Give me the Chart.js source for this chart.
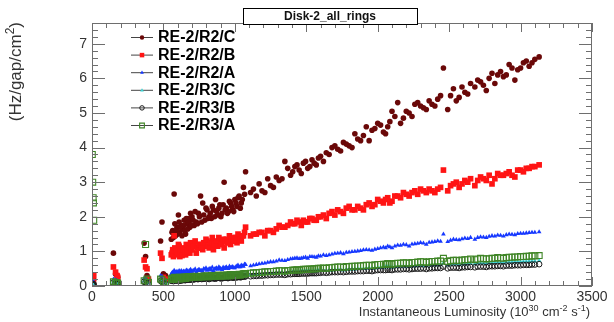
<!DOCTYPE html>
<html>
<head>
<meta charset="utf-8">
<script src="https://cdn.jsdelivr.net/npm/chart.js@4.4.1/dist/chart.umd.min.js"></script>
<style>
  body { margin: 0; background: #fff; }
  #wrap { width: 614px; height: 322px; }
</style>
</head>
<body>
<div id="wrap"><canvas id="rateChart" width="614" height="322"></canvas></div>
<script>
// Luminosidade instantanea (10^30 cm-2 s-1), mesma para todos os aneis
const lumi = [2, 5, 8, 10, 12, 150, 165, 175, 180, 365, 375, 385, 395, 480, 490, 500, 515,
  555, 565, 575, 585, 595, 605, 615, 625, 635, 645, 655, 665, 675, 685,
  700, 715, 730, 745, 760, 775, 790, 805, 820, 835, 850, 865, 880, 895, 910, 925, 940, 955, 970, 985,
  1000, 1015, 1030, 1045, 1060, 1075,
  1110, 1150, 1190, 1230, 1270, 1310, 1350, 1390, 1420, 1450, 1480, 1510, 1540, 1570, 1600,
  1640, 1680, 1720, 1760, 1800, 1840, 1880, 1920, 1960, 2000,
  2040, 2070, 2100, 2140, 2180, 2220, 2260, 2300, 2340, 2380,
  2420, 2460, 2490, 2530, 2570, 2610, 2650, 2680, 2720, 2760,
  2800, 2840, 2880, 2920, 2960, 3000, 3040, 3080, 3130,
  560, 570, 580, 590, 600, 610, 620, 630, 640, 650, 660, 670, 680, 690, 695,
  708, 722, 738, 752, 768, 782, 798, 812, 828, 842, 858, 872, 888, 902, 918,
  932, 948, 962, 978, 992, 1008, 1022, 1038, 1052, 1068,
  1130, 1170, 1210, 1250, 1290, 1330, 1370, 1405, 1435, 1465,
  1495, 1525, 1555, 1585, 1620, 1660, 1700, 1740, 1780, 1820,
  1860, 1900, 1940, 1980, 2020, 2055, 2085, 2120, 2160, 2200,
  2240, 2280, 2320, 2360, 2400, 2440, 2510, 2550, 2590, 2630,
  2700, 2740, 2780, 2820, 2860, 2900, 2940, 2980, 3020, 3060, 3100];

// Taxa (Hz/gap/cm2) por anel
const rateR2C = [0.15, 0.22, 0.1, 0.05, 0.18, 0.95, 0.35, 0.3, 0.25, 1.24, 0.85, 0.3, 0.2, 1.3, 1.85, 0.35, 0.3,
  1.35, 1.6, 2.66, 1.45, 1.7, 2.05, 1.55, 1.75, 1.65, 1.9, 1.5, 1.8, 1.95, 1.7,
  2.0, 1.75, 1.85, 2.1, 2.6, 2.4, 1.9, 2.2, 2.0, 1.95, 2.2, 2.5, 2.05, 2.35, 2.1, 3.0, 2.25, 2.15, 2.4, 2.2,
  2.5, 2.3, 2.6, 2.4, 2.85, 3.3,
  2.7, 2.6, 2.75, 3.1, 2.85, 3.05, 3.6, 3.2, 3.45, 3.35, 3.55, 3.4, 3.65, 3.5, 3.75,
  3.85, 4.0, 3.95, 4.15, 4.05, 4.4, 4.2, 4.6, 4.5, 4.7,
  4.45, 4.6, 5.05, 5.3, 4.85, 5.0, 5.25, 5.2, 5.1, 5.25,
  5.4, 6.3, 5.1, 5.7, 5.45, 5.6, 5.85, 5.75, 5.9, 5.65,
  6.15, 6.1, 6.05, 6.4, 5.95, 6.3, 6.5, 6.45, 6.62,
  1.55, 1.4, 1.8, 1.6, 1.5, 1.85, 1.7, 1.45, 1.75, 1.6, 1.95, 1.65, 1.85, 2.1, 1.75,
  1.9, 2.15, 1.8, 2.0, 1.85, 2.05, 2.25, 1.95, 2.1, 2.3, 2.0, 2.15, 2.25, 2.0, 2.35,
  2.2, 2.1, 2.45, 2.3, 2.15, 2.4, 2.55, 2.25, 2.5, 2.65,
  2.8, 2.95, 2.7, 2.9, 3.15, 3.1, 3.4, 3.3, 3.5, 3.25,
  3.6, 3.45, 3.55, 3.7, 3.6, 3.8, 4.05, 3.9, 4.1, 4.0,
  4.25, 4.35, 4.2, 4.55, 4.65, 4.4, 4.75, 4.9, 4.7, 5.05,
  4.9, 5.3, 5.15, 5.35, 5.2, 5.5, 5.5, 5.35, 5.75, 5.55,
  5.95, 5.8, 6.0, 5.85, 6.2, 6.1, 6.3, 6.25, 6.45, 6.35, 6.55];
const rateR2B = [0.2, 0.28, 0.12, 0.08, 0.3, 0.55, 0.4, 0.3, 0.25, 0.75, 0.55, 0.5, 0.2, 0.95, 0.8, 0.25, 0.2,
  0.9, 1.05, 1.45, 0.95, 1.0, 1.2, 0.85, 1.05, 0.95, 1.1, 0.9, 1.0, 1.15, 0.95,
  1.05, 1.25, 0.95, 1.1, 1.2, 1.05, 1.15, 1.3, 1.1, 1.2, 1.05, 1.25, 1.15, 1.3, 1.2, 1.1, 1.35, 1.25, 1.2, 1.3,
  1.4, 1.25, 1.35, 1.3, 1.45, 1.7,
  1.45, 1.5, 1.55, 1.6, 1.55, 1.75, 1.7, 1.85, 1.8, 1.85, 1.9, 1.85, 1.95, 1.9, 2.0,
  1.95, 2.15, 2.2, 2.1, 2.3, 2.2, 2.25, 2.35, 2.3, 2.5,
  2.4, 2.55, 2.45, 2.6, 2.7, 2.6, 2.75, 2.8, 2.7, 2.75,
  2.8, 3.35, 2.75, 2.95, 2.85, 3.05, 3.1, 2.9, 3.15, 3.05,
  2.95, 3.25, 3.2, 3.3, 3.15, 3.35, 3.4, 3.45, 3.5,
  0.95, 0.85, 1.1, 1.0, 0.9, 1.15, 1.0, 0.88, 1.05, 0.95, 1.2, 1.0, 1.1, 1.25, 1.05,
  1.15, 1.3, 1.1, 1.2, 1.1, 1.25, 1.35, 1.15, 1.25, 1.4, 1.2, 1.3, 1.4, 1.2, 1.35,
  1.3, 1.25, 1.45, 1.35, 1.3, 1.4, 1.5, 1.35, 1.45, 1.55,
  1.5, 1.55, 1.45, 1.6, 1.65, 1.7, 1.75, 1.8, 1.9, 1.75,
  1.85, 1.95, 1.9, 2.0, 2.05, 2.1, 2.05, 2.15, 2.25, 2.2,
  2.3, 2.2, 2.4, 2.35, 2.45, 2.5, 2.4, 2.6, 2.55, 2.65,
  2.7, 2.65, 2.75, 2.8, 2.7, 2.85, 2.9, 3.0, 2.95, 3.0,
  3.05, 3.1, 3.2, 3.1, 3.2, 3.25, 3.2, 3.35, 3.3, 3.4, 3.45];
const rateR2A = [0.1, 0.15, 0.08, 0.05, 0.12, 0.2, 0.18, 0.15, 0.12, 0.22, 0.2, 0.15, 0.12, 0.3, 0.28, 0.15, 0.12,
  0.35, 0.4, 0.45, 0.38, 0.42, 0.4, 0.36, 0.44, 0.4, 0.42, 0.38, 0.45, 0.4, 0.43,
  0.42, 0.45, 0.4, 0.47, 0.44, 0.42, 0.48, 0.45, 0.5, 0.46, 0.44, 0.5, 0.48, 0.52, 0.47, 0.5, 0.55, 0.5, 0.53, 0.56,
  0.52, 0.58, 0.55, 0.6, 0.57, 0.62,
  0.58, 0.62, 0.65, 0.68, 0.7, 0.75, 0.73, 0.78, 0.8, 0.79, 0.82, 0.8, 0.85, 0.83, 0.86,
  0.88, 0.92, 0.95, 0.93, 0.98, 1.0, 1.02, 1.05, 1.03, 1.08,
  1.12, 1.15, 1.1, 1.18, 1.2, 1.15, 1.22, 1.25, 1.2, 1.27,
  1.3, 1.5, 1.28, 1.35, 1.33, 1.38, 1.4, 1.35, 1.42, 1.4,
  1.45, 1.47, 1.44, 1.5, 1.48, 1.52, 1.53, 1.55, 1.56,
  0.38, 0.33, 0.42, 0.4, 0.36, 0.44, 0.4, 0.37, 0.43, 0.39, 0.46, 0.41, 0.44, 0.48, 0.42,
  0.45, 0.49, 0.44, 0.47, 0.45, 0.5, 0.52, 0.47, 0.5, 0.54, 0.49, 0.52, 0.55, 0.5, 0.54,
  0.53, 0.51, 0.57, 0.54, 0.52, 0.56, 0.6, 0.55, 0.58, 0.63,
  0.6, 0.64, 0.66, 0.7, 0.72, 0.74, 0.76, 0.79, 0.81, 0.8,
  0.83, 0.85, 0.84, 0.87, 0.9, 0.9, 0.94, 0.96, 0.97, 0.99,
  1.01, 1.04, 1.04, 1.06, 1.1, 1.1, 1.13, 1.15, 1.17, 1.19,
  1.21, 1.23, 1.24, 1.26, 1.28, 1.29, 1.32, 1.34, 1.36, 1.37,
  1.4, 1.41, 1.43, 1.44, 1.46, 1.48, 1.49, 1.51, 1.52, 1.54, 1.55];
const rateR3C = [0.05, 0.08, 0.04, 0.03, 0.06, 0.12, 0.1, 0.08, 0.07, 0.15, 0.12, 0.1, 0.08, 0.18, 0.15, 0.1, 0.08,
  0.18, 0.2, 0.22, 0.19, 0.21, 0.2, 0.18, 0.22, 0.21, 0.23, 0.2, 0.22, 0.24, 0.21,
  0.23, 0.22, 0.24, 0.23, 0.25, 0.24, 0.26, 0.25, 0.24, 0.27, 0.26, 0.25, 0.28, 0.27, 0.26, 0.28, 0.29, 0.27, 0.3, 0.28,
  0.3, 0.29, 0.31, 0.3, 0.32, 0.33,
  0.33, 0.34, 0.35, 0.36, 0.37, 0.38, 0.37, 0.39, 0.4, 0.4, 0.41, 0.42, 0.42, 0.43, 0.44,
  0.44, 0.46, 0.47, 0.46, 0.48, 0.49, 0.5, 0.51, 0.5, 0.53,
  0.54, 0.55, 0.54, 0.56, 0.57, 0.56, 0.58, 0.59, 0.58, 0.6,
  0.61, 0.66, 0.6, 0.63, 0.62, 0.64, 0.65, 0.64, 0.66, 0.65,
  0.67, 0.68, 0.67, 0.69, 0.7, 0.7, 0.71, 0.72, 0.73,
  0.19, 0.17, 0.21, 0.2, 0.18, 0.22, 0.2, 0.19, 0.21, 0.2, 0.23, 0.21, 0.22, 0.24, 0.22,
  0.23, 0.25, 0.23, 0.24, 0.23, 0.25, 0.26, 0.24, 0.25, 0.27, 0.25, 0.26, 0.27, 0.25, 0.28,
  0.27, 0.26, 0.29, 0.28, 0.27, 0.29, 0.3, 0.28, 0.3, 0.31,
  0.34, 0.35, 0.36, 0.37, 0.38, 0.39, 0.39, 0.4, 0.41, 0.42,
  0.42, 0.43, 0.43, 0.44, 0.45, 0.46, 0.47, 0.47, 0.48, 0.49,
  0.5, 0.5, 0.52, 0.52, 0.54, 0.55, 0.55, 0.56, 0.57, 0.57,
  0.58, 0.59, 0.59, 0.6, 0.61, 0.61, 0.62, 0.63, 0.63, 0.64,
  0.66, 0.66, 0.67, 0.68, 0.68, 0.69, 0.7, 0.7, 0.71, 0.72, 0.72];
const rateR3B = [0.04, 0.06, 0.03, 0.02, 0.05, 0.1, 0.08, 0.07, 0.06, 0.12, 0.1, 0.08, 0.06, 0.15, 0.12, 0.08, 0.06,
  0.15, 0.17, 0.18, 0.16, 0.18, 0.17, 0.15, 0.19, 0.18, 0.19, 0.17, 0.19, 0.2, 0.18,
  0.2, 0.19, 0.21, 0.2, 0.22, 0.21, 0.22, 0.21, 0.2, 0.23, 0.22, 0.21, 0.24, 0.23, 0.22, 0.24, 0.25, 0.23, 0.26, 0.24,
  0.26, 0.25, 0.27, 0.26, 0.28, 0.28,
  0.28, 0.29, 0.3, 0.31, 0.32, 0.33, 0.32, 0.34, 0.35, 0.35, 0.36, 0.36, 0.37, 0.37, 0.38,
  0.38, 0.4, 0.4, 0.4, 0.42, 0.42, 0.43, 0.44, 0.43, 0.46,
  0.46, 0.47, 0.46, 0.48, 0.49, 0.48, 0.5, 0.5, 0.49, 0.51,
  0.52, 0.56, 0.51, 0.53, 0.52, 0.54, 0.55, 0.54, 0.56, 0.55,
  0.57, 0.58, 0.57, 0.59, 0.6, 0.6, 0.61, 0.62, 0.63,
  0.16, 0.14, 0.17, 0.17, 0.15, 0.18, 0.17, 0.16, 0.18, 0.17, 0.19, 0.18, 0.19, 0.2, 0.19,
  0.19, 0.21, 0.2, 0.21, 0.2, 0.21, 0.22, 0.21, 0.22, 0.23, 0.22, 0.23, 0.24, 0.22, 0.24,
  0.24, 0.23, 0.25, 0.25, 0.24, 0.25, 0.26, 0.25, 0.27, 0.27,
  0.29, 0.3, 0.31, 0.32, 0.33, 0.33, 0.34, 0.35, 0.35, 0.36,
  0.36, 0.37, 0.37, 0.38, 0.39, 0.39, 0.4, 0.41, 0.41, 0.42,
  0.43, 0.43, 0.44, 0.45, 0.46, 0.46, 0.47, 0.48, 0.48, 0.49,
  0.49, 0.5, 0.51, 0.51, 0.52, 0.52, 0.53, 0.53, 0.54, 0.55,
  0.56, 0.56, 0.57, 0.57, 0.58, 0.59, 0.59, 0.6, 0.61, 0.61, 0.62];
const rateR3A = [3.8, 3.0, 2.55, 2.4, 1.9, 0.12, 0.1, 0.09, 0.08, 0.15, 1.2, 0.2, 0.1, 0.2, 0.18, 0.12, 0.1,
  0.2, 0.22, 0.25, 0.21, 0.24, 0.23, 0.2, 0.25, 0.23, 0.26, 0.22, 0.25, 0.27, 0.24,
  0.26, 0.25, 0.27, 0.26, 0.28, 0.27, 0.29, 0.28, 0.27, 0.3, 0.29, 0.28, 0.31, 0.3, 0.29, 0.31, 0.32, 0.3, 0.33, 0.31,
  0.33, 0.32, 0.34, 0.33, 0.35, 0.36,
  0.37, 0.38, 0.4, 0.41, 0.42, 0.44, 0.43, 0.45, 0.46, 0.46, 0.48, 0.48, 0.49, 0.5, 0.51,
  0.51, 0.53, 0.55, 0.54, 0.56, 0.57, 0.58, 0.6, 0.59, 0.62,
  0.63, 0.65, 0.63, 0.66, 0.67, 0.66, 0.68, 0.7, 0.68, 0.71,
  0.72, 0.8, 0.71, 0.74, 0.73, 0.76, 0.78, 0.76, 0.8, 0.78,
  0.8, 0.82, 0.8, 0.83, 0.84, 0.85, 0.86, 0.87, 0.88,
  0.21, 0.19, 0.24, 0.22, 0.2, 0.25, 0.23, 0.21, 0.24, 0.22, 0.26, 0.24, 0.25, 0.27, 0.25,
  0.26, 0.28, 0.26, 0.27, 0.26, 0.28, 0.29, 0.27, 0.28, 0.3, 0.28, 0.29, 0.31, 0.28, 0.31,
  0.3, 0.29, 0.32, 0.31, 0.3, 0.32, 0.33, 0.31, 0.34, 0.35,
  0.38, 0.39, 0.41, 0.42, 0.43, 0.44, 0.45, 0.46, 0.47, 0.47,
  0.48, 0.49, 0.5, 0.51, 0.52, 0.53, 0.54, 0.55, 0.56, 0.57,
  0.58, 0.59, 0.6, 0.61, 0.62, 0.63, 0.64, 0.65, 0.66, 0.67,
  0.68, 0.69, 0.7, 0.7, 0.71, 0.72, 0.73, 0.74, 0.75, 0.76,
  0.78, 0.79, 0.79, 0.8, 0.81, 0.82, 0.83, 0.84, 0.85, 0.86, 0.87];

const seriesNames = ['RE-2/R2/C', 'RE-2/R2/B', 'RE-2/R2/A', 'RE-2/R3/C', 'RE-2/R3/B', 'RE-2/R3/A'];
const seriesRates = [rateR2C, rateR2B, rateR2A, rateR3C, rateR3B, rateR3A];
const xTicks = [0, 500, 1000, 1500, 2000, 2500, 3000, 3500];
const yTicks = [0, 1, 2, 3, 4, 5, 6, 7];

// estilo de cada anel (marcador estilo ROOT)
const styles = [
  { pointStyle: 'circle', radius: 2.8, fill: '#6a0808', stroke: '#6a0808', bw: 0 },
  { pointStyle: 'rect', radius: 4, fill: '#ff1414', stroke: '#ff1414', bw: 0 },
  { pointStyle: 'triangle', radius: 2.7, fill: '#1638ff', stroke: '#1638ff', bw: 0 },
  { pointStyle: 'triangle', radius: 2.7, fill: '#3cd2d2', stroke: '#3cd2d2', bw: 0 },
  { pointStyle: 'circle', radius: 2.8, fill: 'rgba(0,0,0,0)', stroke: '#1a1a1a', bw: 1 },
  { pointStyle: 'rect', radius: 4.2, fill: 'rgba(0,0,0,0)', stroke: '#3f8526', bw: 1.1 }
];

const datasets = seriesNames.map(function (name, i) {
  const st = styles[i];
  return {
    label: name,
    data: lumi.map(function (x, k) { return { x: x, y: seriesRates[i][k] }; }),
    pointStyle: st.pointStyle,
    pointRadius: st.radius,
    pointHoverRadius: st.radius,
    pointBackgroundColor: st.fill,
    pointBorderColor: st.stroke,
    pointBorderWidth: st.bw,
    showLine: false,
    order: seriesNames.length - i
  };
});

const FONT = '"Liberation Sans", Arial, sans-serif';

function drawPieces(ctx, pieces, x, y, align) {
  let total = 0;
  pieces.forEach(function (p) { ctx.font = p.font; total += ctx.measureText(p.t).width; });
  let cx = align === 'right' ? x - total : x;
  ctx.textAlign = 'left';
  pieces.forEach(function (p) {
    ctx.font = p.font;
    ctx.fillText(p.t, cx, y - (p.rise || 0));
    cx += ctx.measureText(p.t).width;
  });
}

// moldura, ticks internos, titulo, legenda e titulos dos eixos (estilo ROOT)
const rootStyle = {
  id: 'rootStyle',
  afterDraw(chart) {
    const ctx = chart.ctx;
    const a = chart.chartArea;
    const xs = chart.scales.x, ys = chart.scales.y;
    ctx.save();
    ctx.strokeStyle = '#6e6e6e';
    ctx.lineWidth = 1;
    ctx.strokeRect(a.left + 0.5, a.top + 0.5, a.right - a.left - 1, a.bottom - a.top - 1);
    ctx.beginPath();
    for (let v = 0; v <= 3500; v += 100) {
      const px = Math.round(xs.getPixelForValue(v)) + 0.5;
      const len = v % 500 === 0 ? 9 : 5;
      ctx.moveTo(px, a.bottom); ctx.lineTo(px, a.bottom - len);
      ctx.moveTo(px, a.top); ctx.lineTo(px, a.top + len);
    }
    for (let k = 0; k <= 38; k++) {
      const v = k * 0.2;
      const py = Math.round(ys.getPixelForValue(v)) + 0.5;
      const len = k % 5 === 0 ? 13 : 6;
      ctx.moveTo(a.left, py); ctx.lineTo(a.left + len, py);
      ctx.moveTo(a.right, py); ctx.lineTo(a.right - len, py);
    }
    ctx.stroke();

    // titulo
    ctx.fillStyle = '#fff';
    ctx.fillRect(243, 8, 174, 16);
    ctx.strokeStyle = '#000';
    ctx.strokeRect(243.5, 8.5, 174, 16);
    ctx.fillStyle = '#111';
    ctx.font = 'bold 12px ' + FONT;
    ctx.textAlign = 'center';
    ctx.textBaseline = 'middle';
    ctx.fillText('Disk-2_all_rings', 330, 17);

    // legenda
    ctx.textBaseline = 'middle';
    seriesNames.forEach(function (name, i) {
      const y = 37 + i * 17.6;
      const st = styles[i];
      ctx.strokeStyle = '#444';
      ctx.lineWidth = 1;
      ctx.beginPath(); ctx.moveTo(131, y + 0.5); ctx.lineTo(153, y + 0.5); ctx.stroke();
      ctx.fillStyle = st.fill;
      ctx.strokeStyle = st.stroke;
      ctx.lineWidth = st.bw;
      Chart.helpers.drawPoint(ctx, { pointStyle: st.pointStyle, radius: st.radius * 0.8, rotation: 0, borderWidth: st.bw }, 142, y + 0.5);
      ctx.fillStyle = '#000';
      ctx.font = 'bold 16px ' + FONT;
      ctx.textAlign = 'left';
      ctx.fillText(name, 158, y + 1);
    });

    // titulos dos eixos
    ctx.fillStyle = '#333';
    ctx.textBaseline = 'alphabetic';
    const n = '13px ' + FONT, s = '9px ' + FONT;
    drawPieces(ctx, [
      { t: 'Instantaneous Luminosity (10', font: n },
      { t: '30', font: s, rise: 5 },
      { t: ' cm', font: n },
      { t: '-2', font: s, rise: 5 },
      { t: ' s', font: n },
      { t: '-1', font: s, rise: 5 },
      { t: ')', font: n }
    ], 590, 316, 'right');

    ctx.translate(21, 22);
    ctx.rotate(-Math.PI / 2);
    drawPieces(ctx, [
      { t: '(Hz/gap/cm', font: '17px ' + FONT },
      { t: '2', font: '12px ' + FONT, rise: 7 },
      { t: ')', font: '17px ' + FONT }
    ], 0, 0, 'right');
    ctx.restore();
  }
};

new Chart(document.getElementById('rateChart'), {
  type: 'scatter',
  data: { datasets: datasets },
  options: {
    responsive: false,
    devicePixelRatio: 1,
    animation: false,
    events: [],
    layout: { padding: { top: 23, right: 22, left: 0, bottom: 0 } },
    plugins: { legend: { display: false }, tooltip: { enabled: false }, title: { display: false } },
    scales: {
      x: {
        type: 'linear', min: 0, max: 3500,
        afterBuildTicks: function (scale) { scale.ticks = xTicks.map(function (v) { return { value: v }; }); },
        afterFit: function (scale) { scale.height = 36; },
        grid: { display: false, drawTicks: false },
        border: { display: false },
        ticks: { color: '#333', font: { family: FONT, size: 14 }, padding: 3, maxRotation: 0, autoSkip: false,
          callback: function (v) { return String(v); } }
      },
      y: {
        type: 'linear', min: 0, max: 7.6,
        afterBuildTicks: function (scale) { scale.ticks = yTicks.map(function (v) { return { value: v }; }); },
        afterFit: function (scale) { scale.width = 92; },
        grid: { display: false, drawTicks: false },
        border: { display: false },
        ticks: { color: '#333', font: { family: FONT, size: 14 }, padding: 5,
          callback: function (v) { return String(v); } }
      }
    }
  },
  plugins: [rootStyle]
});
</script>
</body>
</html>
